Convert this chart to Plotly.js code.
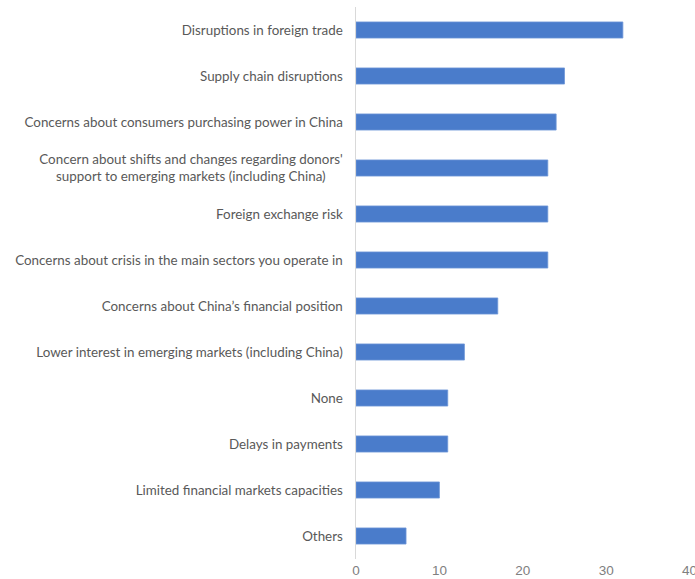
<!DOCTYPE html>
<html>
<head>
<meta charset="utf-8">
<script src="https://cdn.plot.ly/plotly-3.0.1.min.js"></script>
<style>html,body{margin:0;padding:0;background:#fff;}#chart{width:695px;height:579px;}</style>
</head>
<body>
<div id="chart"></div>
<script>
var categories = [
  "Disruptions in foreign trade",
  "Supply chain disruptions",
  "Concerns about consumers purchasing power in China",
  "Concern about shifts and changes regarding donors'<br>support to emerging markets (including China)&nbsp;&nbsp;&nbsp;&nbsp;&nbsp;",
  "Foreign exchange risk",
  "Concerns about crisis in the main sectors you operate in",
  "Concerns about China\u2019s financial position",
  "Lower interest in emerging markets (including China)",
  "None",
  "Delays in payments",
  "Limited financial markets capacities",
  "Others"
];
var values = [32, 25, 24, 23, 23, 23, 17, 13, 11, 11, 10, 6];
var tickVals = [0, 10, 20, 30, 40];

var trace = {
  type: 'bar',
  orientation: 'h',
  y: categories,
  x: values,
  width: 0.35,
  marker: {color: '#4A7CCB', line: {color: '#6F97D8', width: 0.8}},
  hoverinfo: 'x+y'
};

var layout = {
  width: 695,
  height: 579,
  margin: {l: 356, r: 5, t: 7, b: 20},
  paper_bgcolor: '#fff',
  plot_bgcolor: '#fff',
  showlegend: false,
  bargap: 0.65,
  font: {family: 'Lato, "Open Sans", sans-serif', color: '#595959', size: 13},
  xaxis: {
    range: [0, 40.05],
    tickvals: tickVals,
    ticktext: tickVals.map(String),
    showgrid: false,
    zeroline: false,
    showline: false,
    ticks: '',
    ticklabeloverflow: 'allow',
    ticklabelstandoff: 1,
    tickfont: {family: '"Liberation Sans", Arial, sans-serif', size: 13.5, color: '#808080'},
    fixedrange: true
  },
  yaxis: {
    type: 'category',
    autorange: 'reversed',
    showgrid: false,
    zeroline: false,
    showline: true,
    linecolor: '#d9d9d9',
    linewidth: 1.5,
    ticks: '',
    ticklabelstandoff: 9,
    tickfont: {family: 'Lato, "Open Sans", sans-serif', size: 13.4, color: '#595959'},
    fixedrange: true
  }
};

Plotly.newPlot('chart', [trace], layout, {displayModeBar: false, staticPlot: true});
</script>
</body>
</html>
